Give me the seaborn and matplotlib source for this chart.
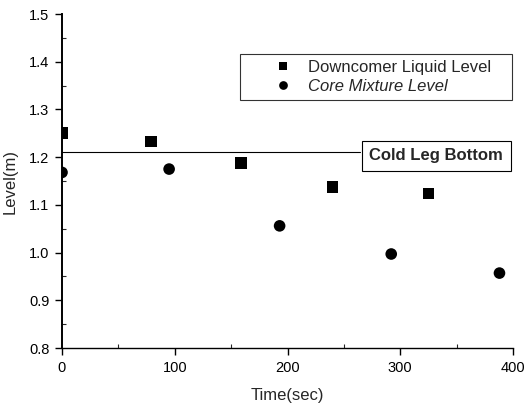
import matplotlib
matplotlib.use("Agg")
import matplotlib.pyplot as plt
import seaborn as sns
import pandas as pd
from matplotlib.ticker import MultipleLocator
from matplotlib.collections import PathCollection
from matplotlib.lines import Line2D
from matplotlib.legend_handler import HandlerPathCollection, HandlerLine2D

downcomer_time = [0, 79, 159, 240, 325]
downcomer_level = [1.250, 1.233, 1.188, 1.137, 1.124]
core_time = [0, 95, 193, 292, 388]
core_level = [1.168, 1.175, 1.056, 0.997, 0.957]
series_names = ["Downcomer Liquid Level", "Core Mixture Level"]
cold_leg_level = 1.21
cold_leg_label = "Cold Leg Bottom"

df = pd.DataFrame({
    "Time": downcomer_time + core_time,
    "Level": downcomer_level + core_level,
    "Series": [series_names[0]] * len(downcomer_time) + [series_names[1]] * len(core_time),
})

sns.set_style("ticks")
plt.rcParams["font.family"] = ["Liberation Sans", "DejaVu Sans"]

fig = plt.figure(figsize=(5.26, 4.05), dpi=100)
ax = fig.add_axes([62 / 526, 57 / 405, 451 / 526, 334 / 405])

sns.scatterplot(data=df, x="Time", y="Level", hue="Series", style="Series",
                markers={series_names[0]: "s", series_names[1]: "o"},
                palette={series_names[0]: "black", series_names[1]: "black"},
                s=70, edgecolor="black", linewidth=0, ax=ax, legend=True)
for coll in ax.collections:
    coll.set_clip_on(True)
    coll.set_clip_path(ax.patch)

ax.plot([0, 264], [cold_leg_level, cold_leg_level], color="black", lw=0.8)
ax.text(332, 1.203, cold_leg_label, fontsize=12, fontweight="bold",
        va="center", ha="center",
        bbox=dict(boxstyle="square,pad=0.45", fc="white", ec="black", lw=0.8))

ax.set_xlim(0, 400)
ax.set_ylim(0.8, 1.5)
ax.xaxis.set_major_locator(MultipleLocator(100))
ax.xaxis.set_minor_locator(MultipleLocator(50))
ax.yaxis.set_major_locator(MultipleLocator(0.1))
ax.yaxis.set_minor_locator(MultipleLocator(0.05))
ax.yaxis.set_major_formatter(matplotlib.ticker.FormatStrFormatter("%.1f"))
ax.tick_params(which="major", direction="out", length=5, width=1, labelsize=10.5,
               colors="black", pad=4)
ax.tick_params(which="minor", direction="in", length=3, width=0.8)

for side in ["top", "right"]:
    ax.spines[side].set_visible(False)
ax.spines["left"].set_linewidth(1.4)
ax.spines["bottom"].set_linewidth(1.0)
ax.spines["left"].set_color("black")
ax.spines["bottom"].set_color("black")

ax.set_xlabel("Time(sec)", fontsize=12, labelpad=10)
ax.set_ylabel("Level(m)", fontsize=12, labelpad=8)

handles, labels = ax.get_legend_handles_labels()
bx0 = (240 - 62) / 451
by0 = (348 - 102) / 334
bw = (512 - 240) / 451
bh = (102 - 54) / 334
leg = ax.legend(handles, labels, loc="upper left", bbox_to_anchor=(bx0, by0, bw, bh),
                mode="expand", frameon=True, fancybox=False, edgecolor="black", fontsize=12,
                handletextpad=0.5, borderpad=0.35, labelspacing=0.25,
                markerscale=0.75, borderaxespad=0, handlelength=3.24,
                handler_map={PathCollection: HandlerPathCollection(xpad=1.2),
                             Line2D: HandlerLine2D(xpad=1.2)})
leg.get_frame().set_linewidth(0.8)
leg.get_texts()[1].set_fontstyle("italic")

fig.savefig("out.png", dpi=100)
